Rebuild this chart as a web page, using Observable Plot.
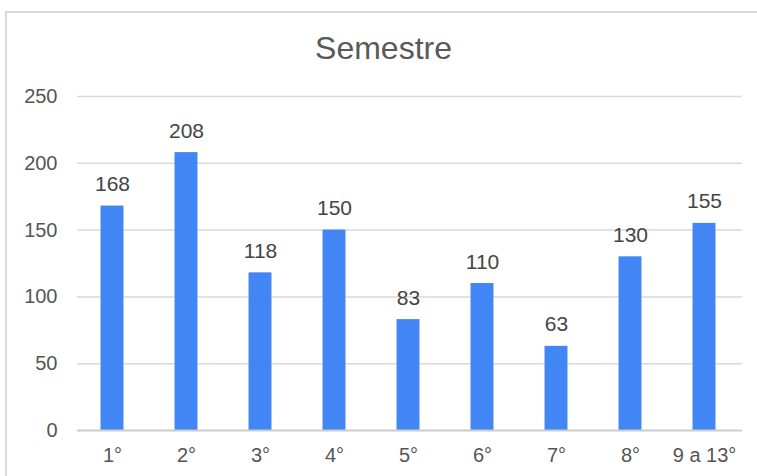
<!DOCTYPE html>
<html>
<head>
<meta charset="utf-8">
<script src="https://cdn.jsdelivr.net/npm/d3@7"></script>
<script src="https://cdn.jsdelivr.net/npm/@observablehq/plot@0.6"></script>
<style>
  html, body { margin: 0; padding: 0; background: #fff; }
  #chart { position: relative; width: 757px; height: 476px; overflow: hidden; font-family: "Liberation Sans", Arial, sans-serif; }
  #frame { position: absolute; left: 5px; top: 11px; width: 900px; height: 700px; border: 2px solid #dadada; box-sizing: border-box; }
  #title { position: absolute; left: 5px; top: 32px; width: 757px; text-align: center; font-size: 32px; line-height: 32px; color: #595959; }
  #plot { position: absolute; left: 0; top: 70px; }
</style>
</head>
<body>
<div id="chart">
  <div id="frame"></div>
  <div id="title">Semestre</div>
  <div id="plot"></div>
</div>
<script>
const semesters = ["1°", "2°", "3°", "4°", "5°", "6°", "7°", "8°", "9 a 13°"];
const counts = [168, 208, 118, 150, 83, 110, 63, 130, 155];
const yTicks = [0, 50, 100, 150, 200, 250];

const data = semesters.map((s, i) => ({ sem: s, count: counts[i] }));

const chart = Plot.plot({
  width: 757,
  height: 406,
  marginTop: 26,
  marginBottom: 46,
  marginLeft: 77,
  marginRight: 15,
  style: { fontFamily: "Liberation Sans, Arial, sans-serif", color: "#555555", background: "transparent" },
  x: { domain: semesters, range: [75, 741], paddingInner: 0.69, paddingOuter: 0.345, round: false, label: null },
  y: { domain: [0, 250], label: null },
  marks: [
    Plot.ruleY(yTicks.filter(d => d > 0), { stroke: "#d9d9d9", strokeWidth: 1.5 }),
    Plot.barY(data, { x: "sem", y: "count", fill: "#4285F4" }),
    Plot.ruleY([0], { stroke: "#cccccc", strokeWidth: 2 }),
    Plot.text(data, { x: "sem", y: "count", text: d => String(d.count), dy: -15, lineAnchor: "bottom", fontSize: 21, fill: "#444444" }),
    Plot.axisY({ ticks: yTicks, tickSize: 0, tickPadding: 20, fontSize: 20, label: null }),
    Plot.axisX({ tickSize: 0, tickPadding: 17, fontSize: 20, label: null })
  ]
});
document.getElementById("plot").appendChild(chart);
</script>
</body>
</html>
